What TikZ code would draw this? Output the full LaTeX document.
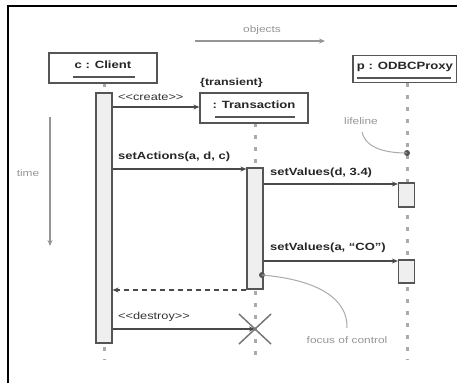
\documentclass[tikz,border=0pt]{standalone}
\usepackage{fontspec}
\setmainfont[FakeStretch=1.25]{Liberation Sans}
\usetikzlibrary{arrows.meta}
\definecolor{edge}{HTML}{555555}
\definecolor{msg}{HTML}{4A4A4A}
\definecolor{note}{HTML}{959595}
\definecolor{life}{HTML}{AAAAAA}
\definecolor{barfill}{HTML}{EFEFEF}
\begin{document}
\begin{tikzpicture}[x=1pt,y=-1pt,
  objbox/.style={draw=edge,line width=1.3pt,fill=white,inner sep=0pt},
  objtext/.style={font=\fontsize{10.5}{12}\bfseries\selectfont,text=black!85,inner sep=0pt},
  actbar/.style={draw=edge,line width=1.2pt,fill=barfill,inner sep=0pt,minimum width=16pt},
  lifeln/.style={draw=life,line width=3pt,dash pattern=on 4pt off 8pt},
  msgline/.style={draw=msg,line width=1.3pt,-{Stealth[length=6pt,width=5pt]}},
  retline/.style={draw=msg,line width=1.3pt,dash pattern=on 5pt off 4pt,-{Stealth[length=6pt,width=5pt]}},
  msglabel/.style={font=\fontsize{10.4}{12}\bfseries\selectfont,text=black!85,anchor=west,inner sep=0pt},
  stereo/.style={font=\fontsize{10.2}{12}\selectfont,text=black!80,anchor=west,inner sep=0pt},
  notelabel/.style={font=\fontsize{9.5}{12}\selectfont,text=note,inner sep=0pt},
  noteline/.style={draw=note!80,line width=1pt},
  ulined/.style={draw=edge,line width=1.2pt}
]
\useasboundingbox (0,0) rectangle (457,383);
% frame
\draw[line width=1.2pt,black] (8,383) -- (8,6) -- (457,6);

% lifelines
\coordinate (cl0) at (104,83);  \coordinate (cl1) at (104,360);
\coordinate (tl0) at (255,123); \coordinate (tl1) at (255,360);
\coordinate (pl0) at (407,83);  \coordinate (pl1) at (407,360);
\draw[lifeln] (cl0) -- (cl1);
\draw[lifeln] (tl0) -- (tl1);
\draw[lifeln] (pl0) -- (pl1);

% object boxes
\node[objbox,minimum width=108pt,minimum height=30pt] (client) at (103,68) {};
\node[objtext] (clientt) at (103,65) {c : Client};
\draw[ulined] (73,77) -- (135,77);

\node[objbox,minimum width=108pt,minimum height=30pt] (trans) at (254,108) {};
\node[objtext] (transt) at (254,105) {: Transaction};
\draw[ulined] (215,117) -- (295,117);
\node[font=\fontsize{10}{12}\bfseries\selectfont,text=black!85,anchor=west,inner sep=0pt] (transient) at (200,83) {\{transient\}};

\node[objbox,minimum width=104pt,minimum height=27pt] (proxy) at (405,69) {};
\node[objtext] (proxyt) at (405,67) {p : ODBCProxy};
\draw[ulined] (357,78) -- (451,78);

% activation bars
\node[actbar,minimum height=250pt] (cbar) at (104,218) {};
\node[actbar,minimum height=121pt] (tbar) at (255,228.5) {};
\node[actbar,minimum height=24pt] (pbar1) at (406.5,195) {};
\node[actbar,minimum height=23pt] (pbar2) at (406.5,271.5) {};

% messages
\coordinate (m1a) at (cbar.east |- 0,107);
\draw[msgline] (m1a) -- (trans.west |- m1a);
\node[stereo] (create) at (118,97) {<{}<create>{}>};

\coordinate (m2a) at (cbar.east |- 0,169);
\draw[msgline] (m2a) -- (tbar.west |- m2a);
\node[msglabel] (setact) at (118,157) {setActions(a, d, c)};

\coordinate (m3a) at (tbar.east |- 0,184);
\draw[msgline] (m3a) -- (pbar1.west |- m3a);
\node[msglabel] (setv1) at (270,173) {setValues(d, 3.4)};

\coordinate (m4a) at (tbar.east |- 0,261);
\draw[msgline] (m4a) -- (pbar2.west |- m4a);
\node[msglabel] (setv2) at (270,248) {setValues(a, “CO”)};

\coordinate (m5a) at (tbar.west |- 0,290);
\draw[retline] (m5a) -- (cbar.east |- m5a);

\coordinate (xc) at (255,329);
\draw[msgline] (cbar.east |- xc) -- (xc);
\node[stereo] (destroy) at (118,317) {<{}<destroy>{}>};
\draw[draw=edge!80,line width=1.5pt] (239,314) -- (271,344) (239,344) -- (271,314);

% annotations
\node[notelabel] (objects) at (262,30) {objects};
\coordinate (oa) at (195,41); \coordinate (ob) at (325,41);
\draw[note,line width=1.5pt,-{Stealth[length=6pt,width=5pt]}] (oa) -- (ob);

\node[notelabel] (time) at (28,173) {time};
\coordinate (ta) at (50,117); \coordinate (tb) at (50,246);
\draw[note,line width=1.5pt,-{Stealth[length=6pt,width=5pt]}] (ta) -- (tb);

\node[notelabel] (lifelbl) at (361,121) {lifeline};
\coordinate (ld) at (407,153);
\fill[edge] (ld) circle (3pt);
\draw[noteline] (362,132) .. controls (366,150) and (390,153) .. (ld);

\node[notelabel] (focus) at (347,340) {focus of control};
\coordinate (fd) at (262,275);
\fill[edge] (fd) circle (3pt);
\draw[noteline] (fd) .. controls (320,280) and (348,300) .. (347,328);
\end{tikzpicture}
\end{document}
